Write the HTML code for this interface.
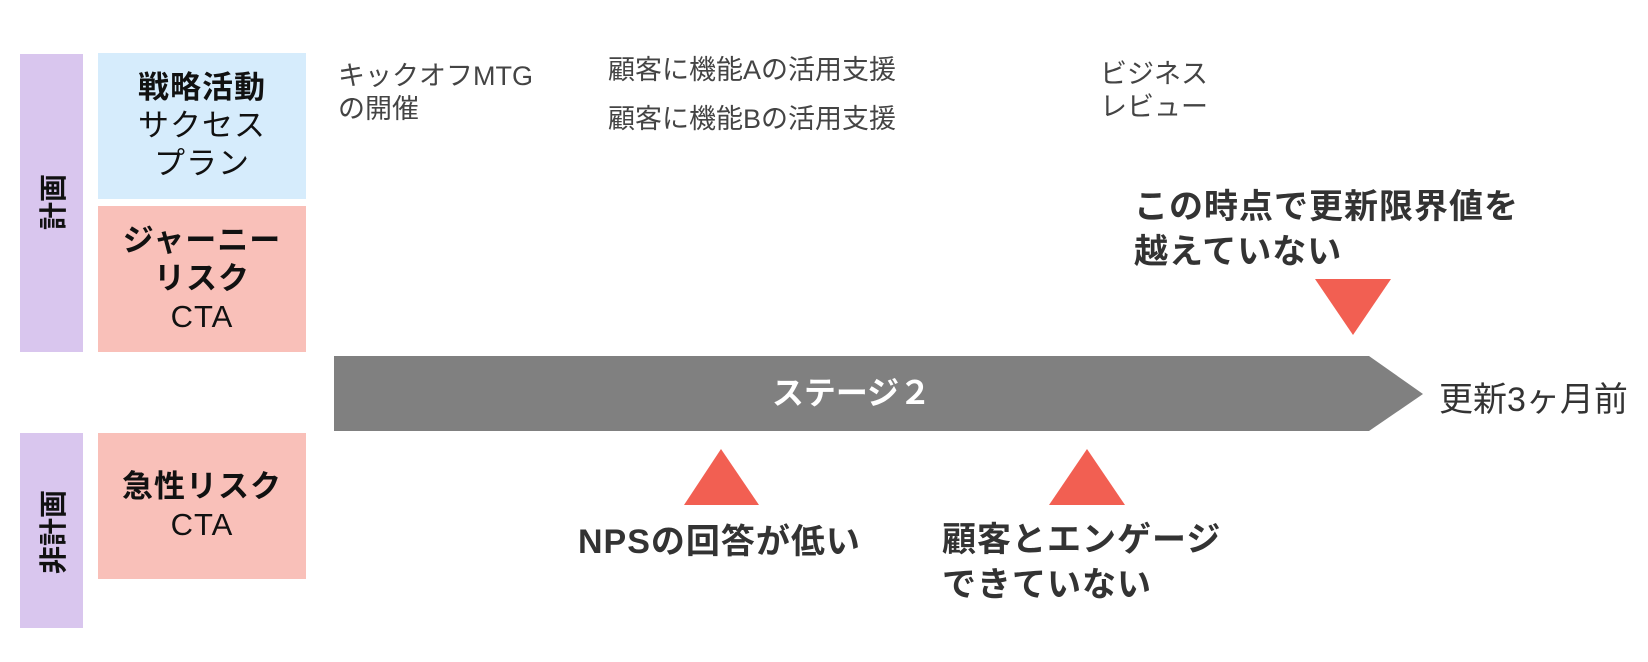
<!DOCTYPE html>
<html><head><meta charset="utf-8"><style>
body{margin:0;width:1648px;height:662px;background:#fff;position:relative;overflow:hidden;font-family:"Liberation Sans","Noto Sans CJK JP",sans-serif;}
.a{position:absolute;}
.box{position:absolute;display:flex;flex-direction:column;justify-content:center;align-items:center;font-size:31px;line-height:38px;color:#111;text-align:center;letter-spacing:1px;}
.b{font-weight:bold;}
.v{position:absolute;font-size:28px;font-weight:bold;color:#111;transform:translate(-50%,-50%) rotate(-90deg);white-space:nowrap;}
.t{position:absolute;font-size:27px;line-height:33px;color:#444;white-space:nowrap;}
.bl{position:absolute;font-size:34px;line-height:45px;font-weight:bold;color:#333;white-space:nowrap;letter-spacing:1px;}
</style></head><body>
<div class="a" style="left:20px;top:54px;width:63px;height:298px;background:#d9c6ee"></div>
<div class="a" style="left:20px;top:433px;width:63px;height:195px;background:#d9c6ee"></div>
<div class="v" style="left:52px;top:202px">計画</div>
<div class="v" style="left:52px;top:532px">非計画</div>
<div class="box" style="left:98px;top:53px;width:208px;height:146px;background:#d6ecfc"><div class="b">戦略活動</div><div>サクセス</div><div>プラン</div></div>
<div class="box" style="left:98px;top:206px;width:208px;height:146px;background:#f9c0b9"><div class="b">ジャーニー</div><div class="b">リスク</div><div>CTA</div></div>
<div class="box" style="left:98px;top:433px;width:208px;height:146px;background:#f9c0b9"><div class="b">急性リスク</div><div>CTA</div></div>
<div class="t" style="left:338px;top:60px">キックオフMTG<br>の開催</div>
<div class="t" style="left:608px;top:54px">顧客に機能Aの活用支援</div>
<div class="t" style="left:608px;top:103px">顧客に機能Bの活用支援</div>
<div class="t" style="left:1100px;top:58px">ビジネス<br>レビュー</div>
<svg class="a" style="left:0;top:0" width="1648" height="662">
<polygon points="334,356 1369,356 1423,394 1369,431 334,431" fill="#808080"/>
<polygon points="1315,279 1391,279 1353,335" fill="#f25f52"/>
<polygon points="684,505 759,505 721,449" fill="#f25f52"/>
<polygon points="1049,505 1125,505 1087,449" fill="#f25f52"/>
</svg>
<div class="a" style="left:334px;top:356px;width:1035px;height:75px;line-height:75px;text-align:center;color:#fff;font-size:32px;font-weight:bold">ステージ２</div>
<div class="a" style="left:1439px;top:372px;font-size:34px;color:#333;white-space:nowrap">更新3ヶ月前</div>
<div class="bl" style="left:1134px;top:185px">この時点で更新限界値を<br>越えていない</div>
<div class="bl" style="left:578px;top:520px">NPSの回答が低い</div>
<div class="bl" style="left:942px;top:518px">顧客とエンゲージ<br>できていない</div>
</body></html>
